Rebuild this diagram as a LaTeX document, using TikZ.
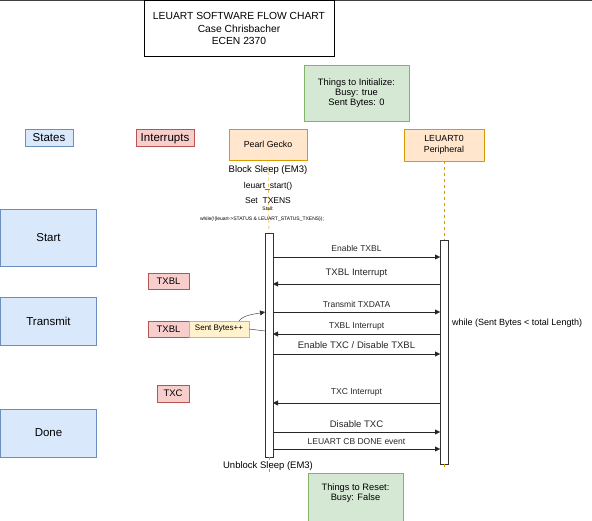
\documentclass[tikz,border=0pt]{standalone}
\usepackage{fontspec}
\setmainfont{Liberation Sans}
\usetikzlibrary{arrows.meta}

\definecolor{stateblue}{HTML}{DAE8FC}
\definecolor{stateline}{HTML}{6C8EBF}
\definecolor{intred}{HTML}{F8CECC}
\definecolor{intline}{HTML}{B85450}
\definecolor{lifeorange}{HTML}{FFE6CC}
\definecolor{lifeline}{HTML}{D79B00}
\definecolor{notegreen}{HTML}{D5E8D4}
\definecolor{noteline}{HTML}{82B366}
\definecolor{actyellow}{HTML}{FFF2CC}
\definecolor{actline}{HTML}{D6B656}

\begin{document}
\begin{tikzpicture}[
                x = 1pt, y = -1pt,
                box/.style = {draw, inner sep = 0pt, outer sep = 0pt, align = center},
                state/.style = {box, fill = stateblue, draw = stateline, font = \fontsize{11.5}{13}\selectfont},
                intr/.style = {box, fill = intred, draw = intline, font = \fontsize{9.5}{11}\selectfont},
                actor/.style = {box, fill = lifeorange, draw = lifeline, font = \fontsize{8.8}{11}\selectfont},
                note/.style = {box, fill = notegreen, draw = noteline, font = \fontsize{9.3}{10}\selectfont},
                bar/.style = {box, fill = white, draw = black!80, minimum width = 8pt},
                txt/.style = {inner sep = 0pt, font = \fontsize{8.5}{10}\selectfont},
                life/.style = {draw = lifeline, dashed, dash pattern = on 3pt off 3pt},
                arr/.style = {draw, black!85, -{Triangle[length = 5pt, width = 5pt]}},
                big/.style = {font = \fontsize{9.5}{11}\selectfont},
                small/.style = {font = \fontsize{8.5}{10}\selectfont},
            ]
            \useasboundingbox (0,0) rectangle (592,521);
            \draw[black!75, line width = 1.5pt] (0,0.75) -- (592,0.75);

            \node (title) [box, minimum width = 190pt, minimum height = 56pt, font = \fontsize{10.3}{12.5}\selectfont]
                at (239,28.5) {LEUART SOFTWARE FLOW CHART\\Case Chrisbacher\\ECEN 2370};
            \node (init) [note, minimum width = 105pt, minimum height = 56pt] at (356.5,93) {Things to Initialize:\\Busy: true\\Sent Bytes: 0};
            \node (reset) [note, minimum width = 95pt, minimum height = 56pt] at (355.5,501) {Things to Reset:\\Busy: False\\[8pt]};

            \node (states) [state, minimum width = 48pt, minimum height = 17pt] at (49,137.5) {States};
            \node (interrupts) [intr, minimum width = 58pt, minimum height = 17pt, font = \fontsize{11.5}{13}\selectfont,
                text height = 10pt, text depth = 2pt] at (165,137.5) {Interrupts};

            \node (start) [state, minimum width = 96pt, minimum height = 57pt] at (48.5,237.5) {Start};
            \node (transmit) [state, minimum width = 96pt, minimum height = 48pt] at (48.5,321) {Transmit};
            \node (done) [state, minimum width = 96pt, minimum height = 48pt] at (48.5,433) {Done};

            \node (txbla) [intr, minimum width = 41pt, minimum height = 16pt] at (168.5,281) {TXBL};
            \node (txblb) [intr, minimum width = 41pt, minimum height = 16pt] at (168.5,329) {TXBL};
            \node (sent) [box, fill = actyellow, draw = actline, minimum width = 60pt, minimum height = 16pt, font = \fontsize{8}{10}\selectfont, anchor = west]
                at (txblb.east) {Sent Bytes++};
            \node (txc) [intr, minimum width = 32pt, minimum height = 17pt] at (173,393.5) {TXC};

            \node (gecko) [actor, minimum width = 78pt, minimum height = 31pt] at (268,144.5) {Pearl Gecko};
            \node (leuart) [actor, minimum width = 80pt, minimum height = 32pt] at (444,145) {LEUART0\\Peripheral};

            \node (geckobar) [bar, minimum height = 224pt] at (269,345) {};
            \node (leuartbar) [bar, minimum height = 224pt] at (444,352) {};

            \coordinate (geckoend) at (269,474);
            \coordinate (leuartend) at (444,470);
            \path[life] (gecko.south) -- (geckobar.north);
            \path[life] (leuart.south) -- (leuartbar.north);
            \path[life] (geckobar.south) -- (geckoend);
            \path[life] (leuartbar.south) -- (leuartend);

            \node (block) [txt, big] at (268,170) {Block Sleep (EM3)};
            \node (startcall) [txt] at (268,186) {leuart\_start()};
            \node (txens) [txt] at (268,201) {Set\ \ TXENS};
            \node (stall) [txt, font = \fontsize{5}{6}\selectfont] at (268,209) {Stall:};
            \node (stallloop) [txt, font = \fontsize{5}{6}\selectfont] at (262,219) {while(!(leuart->STATUS \& LEUART\_STATUS\_TXENS));};
            \node (unblock) [txt, big] at (268,466) {Unblock Sleep (EM3)};
            \node (loop) [txt, font = \fontsize{9}{11}\selectfont, anchor = west] at (452,323) {while (Sent Bytes < total Length)};

            \coordinate (r1) at (0,257);
            \coordinate (r2) at (0,284);
            \coordinate (r3) at (0,312);
            \coordinate (r4) at (0,334);
            \coordinate (r5) at (0,354);
            \coordinate (r6) at (0,403);
            \coordinate (r7) at (0,432);
            \coordinate (r8) at (0,449);
            \coordinate (rs) at (0,331);

            \path[arr] (geckobar.east |- r1) -- node[above = 2pt, small] {Enable TXBL} (leuartbar.west |- r1);
            \path[arr] (leuartbar.west |- r2) -- node[above = 3pt, big] {TXBL Interrupt} (geckobar.east |- r2);
            \path[arr] (geckobar.east |- r3) -- node[above = 1pt, small] {Transmit TXDATA} (leuartbar.west |- r3);
            \path[arr] (leuartbar.west |- r4) -- node[above = 0pt, small] {TXBL Interrupt} (geckobar.east |- r4);
            \path[arr] (geckobar.east |- r5) -- node[above = 2pt, big] {Enable TXC / Disable TXBL} (leuartbar.west |- r5);
            \path[arr] (leuartbar.west |- r6) -- node[above = 3pt, small] {TXC Interrupt} (geckobar.east |- r6);
            \path[arr] (geckobar.east |- r7) -- node[above = 1pt, big] {Disable TXC} (leuartbar.west |- r7);
            \path[arr] (geckobar.east |- r8) -- node[above = 1pt, small] {LEUART CB DONE event} (leuartbar.west |- r8);

            \path[arr] ([xshift = -10pt]sent.north east) .. controls +(4,-6) and +(-10,2) .. (geckobar.west |- r3);
            \path[draw, black!85] (sent.east) -- (geckobar.west |- rs);
        \end{tikzpicture}
\end{document}
